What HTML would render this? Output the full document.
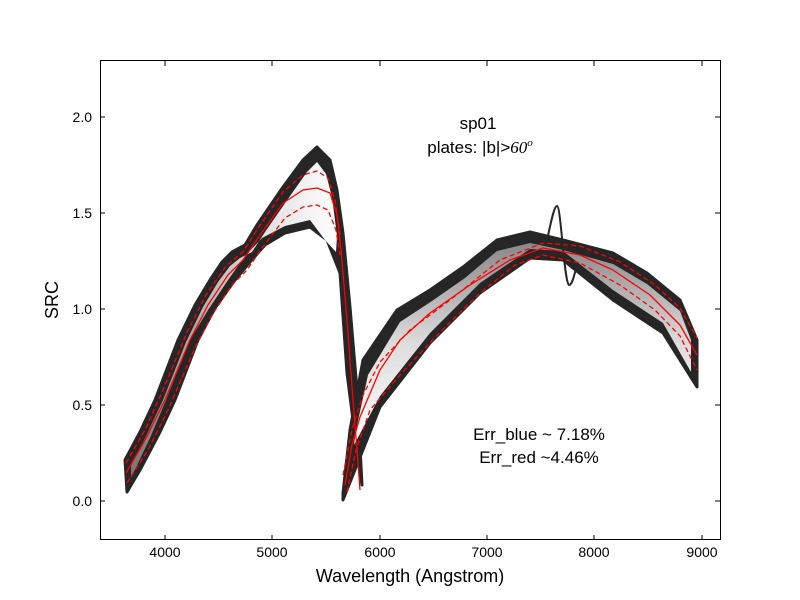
<!DOCTYPE html>
<html><head><style>body{margin:0;background:#fff}svg{display:block}text{font-family:"Liberation Sans",sans-serif}</style></head><body>
<svg width="800" height="600" viewBox="0 0 800 600">
<defs>
<linearGradient id="gb" x1="0" y1="0" x2="1" y2="0"><stop offset="0" stop-color="#777"/><stop offset="0.6" stop-color="#ddd"/><stop offset="1" stop-color="#fff"/></linearGradient>
<linearGradient id="gr" x1="0" y1="0" x2="0" y2="1"><stop offset="0" stop-color="#888"/><stop offset="0.5" stop-color="#ddd"/><stop offset="1" stop-color="#fff"/></linearGradient>
</defs>
<rect width="800" height="600" fill="#fff"/>
<g stroke="#262626" stroke-width="3" stroke-linejoin="round" fill="#262626">
<polygon points="125,460 140,432 155,400 178,340 195,305 210,280 222,262 232,252 245,245 257,225 283,187 303,160 317,147 330,160 337,190 343,233 350,307 357,390 362,485 353,420 347,373 340,273 327,240 310,227 285,233 265,245 250,262 235,280 215,308 198,340 175,400 160,432 140,470 127,492"/>
<polygon points="343,493 350,430 363,360 397,310 430,290 463,267 497,240 530,232 563,240 613,253 647,273 680,300 697,340 697,387 663,333 613,300 563,260 530,258 480,293 430,343 380,407 343,500"/>
</g>
<polygon points="131,466 146,436 163,400 186,342 203,307 218,282 230,266 240,258 252,252 265,232 290,196 307,172 317,162 326,174 332,197 337,236 336,252 325,240 310,220 285,226 262,238 245,256 228,280 208,310 190,340 166,400 150,438 131,478" fill="url(#gb)"/>
<polygon points="356,430 368,375 400,322 432,301 465,278 497,251 530,243 563,250 613,264 647,284 680,311 691,340 691,372 663,323 613,290 563,251 530,249 480,283 430,333 380,396 354,445" fill="url(#gr)"/>
<path d="M546,245 C551,222 554,206 557,206 C561,206 564,282 569,285 C573,285 575,270 578,262" fill="none" stroke="#262626" stroke-width="2"/>
<g fill="none" stroke="#f00" stroke-width="1.3" stroke-linejoin="round">
<path d="M126,473 L145,440 L165,400 L190,340 L208,305 L228,275 L243,260 L258,238 L283,203 L303,190 L317,188 L330,193 L337,215 L341,250 L347,320 L353,400 L357,450 L360,490"/>
<path d="M345,485 L352,445 L360,417 L380,370 L400,340 L430,313 L470,285 L510,260 L543,248 L580,255 L613,270 L650,295 L680,325 L697,355"/>
</g>
<g fill="none" stroke="#f00" stroke-width="1.3" stroke-dasharray="5,3" stroke-linejoin="round">
<path d="M126,463 L145,430 L163,390 L188,330 L206,295 L226,266 L243,252 L258,228 L283,192 L303,175 L317,171 L328,178 L335,200 L340,235"/>
<path d="M127,483 L148,450 L168,410 L194,350 L212,315 L232,285 L247,270 L262,248 L285,218 L303,207 L317,205 L328,210 L336,230 L340,255"/>
<path d="M343,475 L352,430 L363,395 L380,362 L410,330 L450,300 L500,260 L543,243 L580,246 L620,262 L655,285 L680,308 L697,338"/>
<path d="M347,492 L356,450 L370,410 L400,375 L440,332 L480,293 L515,265 L543,255 L580,263 L620,285 L655,310 L680,336 L697,370"/>
</g>
<!-- axes -->
<rect x="100.5" y="60.5" width="620" height="479" fill="none" stroke="#000" stroke-width="1"/>
<g stroke="#000" stroke-width="1">
<path d="M165,540v-5M272,540v-5M380,540v-5M487,540v-5M594,540v-5M702,540v-5M165,61v5M272,61v5M380,61v5M487,61v5M594,61v5M702,61v5"/>
<path d="M100,501h5M100,405h5M100,309h5M100,213h5M100,117h5M720,501h-5M720,405h-5M720,309h-5M720,213h-5M720,117h-5"/>
</g>
<g font-size="14" text-anchor="middle">
<text x="165" y="557">4000</text><text x="272" y="557">5000</text><text x="380" y="557">6000</text><text x="487" y="557">7000</text><text x="594" y="557">8000</text><text x="702" y="557">9000</text>
</g>
<g font-size="14" text-anchor="end">
<text x="92" y="506">0.0</text><text x="92" y="410">0.5</text><text x="92" y="314">1.0</text><text x="92" y="218">1.5</text><text x="92" y="122">2.0</text>
</g>
<text x="410" y="582" font-size="18" text-anchor="middle">Wavelength (Angstrom)</text>
<text transform="translate(58,300) rotate(-90)" font-size="18" text-anchor="middle">SRC</text>
<g font-size="17" text-anchor="middle">
<text x="478" y="129">sp01</text>
<text x="480" y="153">plates: |b|&gt;<tspan font-family="Liberation Serif,serif" font-style="italic">60</tspan><tspan font-family="Liberation Serif,serif" font-style="italic" font-size="11" dy="-7">o</tspan></text>
<text x="539" y="440">Err_blue ~ 7.18%</text>
<text x="539" y="463">Err_red ~4.46%</text>
</g>
</svg>
</body></html>
